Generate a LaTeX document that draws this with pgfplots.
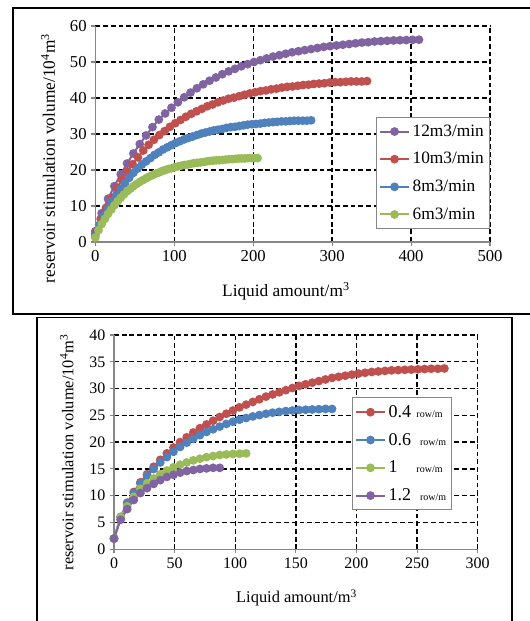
\documentclass[border=0pt]{standalone}
\usepackage{pgfplots}
\pgfplotsset{compat=1.18}
\usepackage{fontspec}
\setmainfont{Liberation Serif}
\definecolor{cpur}{HTML}{8064A2}
\definecolor{cred}{HTML}{C0504D}
\definecolor{cblu}{HTML}{4F81BD}
\definecolor{cgrn}{HTML}{9BBB59}
\definecolor{caxis}{HTML}{868686}
\pgfplotsset{mystyle/.style={
  scale only axis, axis lines=left, axis line style={-, draw=caxis, line width=0.8pt},
  x axis line style={-}, y axis line style={-},
  enlargelimits=false,
  grid=major, major grid style={black, line width=1.05pt, dash pattern=on 3.6pt off 2.2pt},
  tick align=outside, major tick length=3pt, tick style={caxis, line width=0.8pt},
  /pgf/number format/assume math mode=true,
  legend cell align=left,
  legend image code/.code={\draw[mark repeat=2,mark phase=2] plot coordinates {(0cm,0cm) (0.38cm,0cm) (0.76cm,0cm)};},
  every axis plot/.append style={line width=1.5pt, mark=*, mark size=2.5pt},
  clip=false,
}}
\begin{document}
\begin{tikzpicture}
\useasboundingbox (0,0) rectangle (397.5pt,465.75pt);
\draw[line width=1.1pt] (397.5pt,459.75pt) -- (9.75pt,459.75pt) -- (9.75pt,230.25pt) -- (397.5pt,230.25pt);
\draw[line width=1.1pt] (27.75pt,0pt) -- (27.75pt,227.6pt) -- (384pt,227.6pt) -- (384pt,0pt);

\begin{axis}[mystyle, at={(71.5pt,284.25pt)}, anchor=south west, width=296pt, height=162pt,
  xmin=0, xmax=500, ymin=0, ymax=60, xtick distance=100, ytick distance=10,
  ticklabel style={font=\fontsize{12.5}{14}\selectfont},
  xlabel={Liquid amount/m\textsuperscript{3}},
  ylabel={reservoir stimulation volume/10\textsuperscript{4}m\textsuperscript{3}},
  label style={font=\fontsize{13}{15}\selectfont},
  xlabel style={at={(axis description cs:0.483,-0.227)}, anchor=center},
  ylabel style={at={(axis description cs:-0.12,0.387)}, anchor=center},
  legend style={at={(0.711,0.579)}, anchor=north west, draw=caxis, line width=0.8pt,
    font=\fontsize{13}{15}\selectfont, row sep=6.6pt, inner xsep=2pt, inner ysep=3.5pt},
]
\addplot[cpur] table {
0 3.0
8.04 8.0
16.08 12.0
24.12 15.5
32.16 18.8
40.2 21.8
48.24 24.6
56.28 27.2
64.32 29.6
72.36 31.9
80.4 34.0
88.44 35.7
96.48 37.3
104.52 38.8
112.56 40.2
120.6 41.5
128.64 42.7
136.68 43.8
144.72 44.8
152.76 45.7
160.8 46.6
168.84 47.4
176.88 48.1
184.92 48.8
192.96 49.4
201 50.0
209.04 50.5
217.08 51.0
225.12 51.5
233.16 51.9
241.2 52.3
249.24 52.7
257.28 53.0
265.32 53.3
273.36 53.6
281.4 53.9
289.44 54.2
297.48 54.4
305.52 54.6
313.56 54.8
321.6 55.0
329.64 55.2
337.68 55.4
345.72 55.5
353.76 55.7
361.8 55.8
369.84 55.9
377.88 56.0
385.92 56.05
393.96 56.1
402 56.15
410.04 56.2
};
\addlegendentry{12m3/min}
\addplot[cred] table {
0 2.4
6.75 6.4
13.5 9.5
20.25 12.3
27 14.9
33.75 17.3
40.5 19.6
47.25 21.6
54 23.5
60.75 25.4
67.5 27.0
74.25 28.4
81 29.7
87.75 30.8
94.5 32.0
101.25 33.0
108 33.9
114.75 34.8
121.5 35.6
128.25 36.3
135 37.0
141.75 37.7
148.5 38.2
155.25 38.8
162 39.3
168.75 39.8
175.5 40.1
182.25 40.5
189 40.9
195.75 41.3
202.5 41.6
209.25 41.9
216 42.1
222.75 42.4
229.5 42.6
236.25 42.9
243 43.1
249.75 43.2
256.5 43.4
263.25 43.6
270 43.7
276.75 43.9
283.5 44.0
290.25 44.1
297 44.3
303.75 44.4
310.5 44.4
317.25 44.5
324 44.6
330.75 44.6
337.5 44.6
344.25 44.7
};
\addlegendentry{10m3/min}
\addplot[cblu] table {
0 1.8
5.36 4.8
10.72 7.2
16.08 9.3
21.44 11.3
26.8 13.1
32.16 14.8
37.52 16.3
42.88 17.8
48.24 19.2
53.6 20.4
58.96 21.5
64.32 22.4
69.68 23.3
75.04 24.2
80.4 24.9
85.76 25.7
91.12 26.3
96.48 26.9
101.84 27.5
107.2 28.0
112.56 28.5
117.92 28.9
123.28 29.3
128.64 29.7
134 30.1
139.36 30.4
144.72 30.7
150.08 31.0
155.44 31.2
160.8 31.4
166.16 31.7
171.52 31.9
176.88 32.0
182.24 32.2
187.6 32.4
192.96 32.6
198.32 32.7
203.68 32.8
209.04 32.9
214.4 33.1
219.76 33.2
225.12 33.3
230.48 33.4
235.84 33.5
241.2 33.5
246.56 33.6
251.92 33.7
257.28 33.7
262.64 33.7
268 33.7
273.36 33.8
};
\addlegendentry{8m3/min}
\addplot[cgrn] table {
0 1.25
4.03 3.3
8.06 5.0
12.09 6.4
16.12 7.8
20.15 9.0
24.18 10.2
28.21 11.3
32.24 12.3
36.27 13.2
40.3 14.1
44.33 14.8
48.36 15.5
52.39 16.1
56.42 16.7
60.45 17.2
64.48 17.7
68.51 18.2
72.54 18.6
76.57 19.0
80.6 19.3
84.63 19.7
88.66 20.0
92.69 20.3
96.72 20.5
100.75 20.8
104.78 21.0
108.81 21.2
112.84 21.4
116.87 21.5
120.9 21.7
124.93 21.9
128.96 22.0
132.99 22.1
137.02 22.2
141.05 22.4
145.08 22.5
149.11 22.6
153.14 22.7
157.17 22.7
161.2 22.8
165.23 22.9
169.26 23.0
173.29 23.0
177.32 23.1
181.35 23.2
185.38 23.2
189.41 23.2
193.44 23.3
197.47 23.3
201.5 23.3
205.53 23.3
};
\addlegendentry{6m3/min}
\end{axis}

\begin{axis}[mystyle, at={(85.5pt,53.8pt)}, anchor=south west, width=272.8pt, height=160.7pt,
  xmin=0, xmax=300, ymin=0, ymax=40, xtick distance=50, ytick distance=5,
  ticklabel style={font=\fontsize{12}{14}\selectfont},
  xlabel={Liquid amount/m\textsuperscript{3}},
  ylabel={reservoir stimulation volume/10\textsuperscript{4}m\textsuperscript{3}},
  label style={font=\fontsize{12.3}{14}\selectfont},
  xlabel style={at={(axis description cs:0.502,-0.227)}, anchor=center},
  ylabel style={at={(axis description cs:-0.13,0.452)}, anchor=center},
  legend style={at={(0.654,0.709)}, anchor=north west, draw=caxis, line width=0.8pt,
    font=\fontsize{13.5}{15}\selectfont, row sep=6.4pt, inner xsep=2pt, inner ysep=3.5pt},
]
\addplot[cred] table {
0 2
5.45 6
10.9 8.7
16.35 10.7
21.8 12.5
27.25 14
32.7 15.4
38.15 16.7
43.6 17.9
49.05 19
54.5 20
59.95 20.9
65.4 21.8
70.85 22.6
76.3 23.3
81.75 24.0
87.2 24.7
92.65 25.3
98.1 25.9
103.55 26.5
109 27.0
114.45 27.5
119.9 28.0
125.35 28.5
130.8 28.9
136.25 29.3
141.7 29.7
147.15 30.1
152.6 30.5
158.05 30.8
163.5 31.1
168.95 31.4
174.4 31.7
179.85 32.0
185.3 32.2
190.75 32.4
196.2 32.6
201.65 32.8
207.1 32.95
212.55 33.1
218 33.2
223.45 33.3
228.9 33.4
234.35 33.45
239.8 33.5
245.25 33.55
250.7 33.6
256.15 33.65
261.6 33.7
267.05 33.7
272.5 33.75
};
\addlegendentry{\makebox[1.55em][l]{0.4}{\fontsize{7.5}{8}\selectfont row/m}}
\addplot[cblu] table {
0 2
5.45 6
10.9 8.5
16.35 10.5
21.8 12.3
27.25 13.7
32.7 15.0
38.15 16.2
43.6 17.2
49.05 18.2
54.5 19.1
59.95 19.9
65.4 20.6
70.85 21.3
76.3 21.9
81.75 22.4
87.2 22.9
92.65 23.4
98.1 23.8
103.55 24.2
109 24.5
114.45 24.8
119.9 25.05
125.35 25.3
130.8 25.5
136.25 25.65
141.7 25.8
147.15 25.9
152.6 26.0
158.05 26.05
163.5 26.1
168.95 26.15
174.4 26.2
179.85 26.2
};
\addlegendentry{\makebox[1.75em][l]{0.6}{\fontsize{7.5}{8}\selectfont row/m}}
\addplot[cgrn] table {
0 2
5.45 6
10.9 8
16.35 9.8
21.8 11.3
27.25 12.3
32.7 13.2
38.15 14.0
43.6 14.7
49.05 15.3
54.5 15.8
59.95 16.2
65.4 16.6
70.85 16.9
76.3 17.2
81.75 17.4
87.2 17.6
92.65 17.7
98.1 17.8
103.55 17.85
109 17.9
};
\addlegendentry{\makebox[1.55em][l]{1}{\fontsize{7.5}{8}\selectfont row/m}}
\addplot[cpur] table {
0 2
5.45 5.5
10.9 7.5
16.35 9.2
21.8 10.5
27.25 11.4
32.7 12.2
38.15 12.9
43.6 13.5
49.05 13.9
54.5 14.3
59.95 14.6
65.4 14.8
70.85 15.0
76.3 15.1
81.75 15.2
87.2 15.2
};
\addlegendentry{\makebox[1.75em][l]{1.2}{\fontsize{7.5}{8}\selectfont row/m}}
\end{axis}
\end{tikzpicture}
\end{document}
